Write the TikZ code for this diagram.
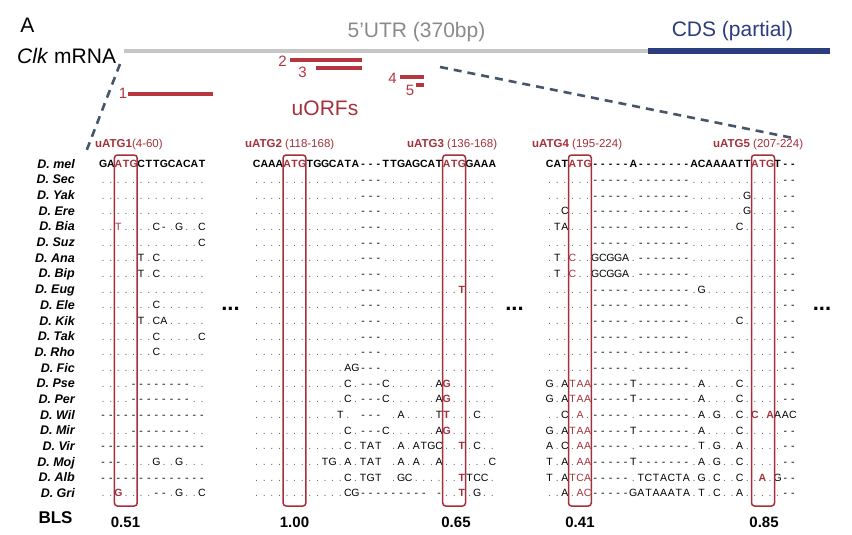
\documentclass[tikz,border=0pt]{standalone}
\usepackage{fontspec}
\setmainfont{Liberation Sans}
\usepackage{xcolor}
\usepackage{tikz}
\usetikzlibrary{positioning}
\definecolor{atgred}{HTML}{A3303A}
\definecolor{barred}{HTML}{B5363F}
\definecolor{utrgray}{HTML}{C6C6C6}
\definecolor{cdsnavy}{HTML}{2C3C7C}
\definecolor{utrtext}{HTML}{8A8A8A}
\definecolor{dashslate}{HTML}{46556A}
\definecolor{dotgray}{HTML}{6A6A6A}
\newlength{\colw}\setlength{\colw}{7.6pt}
% one aligned base per box; lower case = red, * = next one bold, _ = blank
\makeatletter
\def\seq@bf{}
\def\seq#1{\seq@loop#1\relax}
\def\seq@loop#1{\ifx#1\relax\else
  \ifx#1*\gdef\seq@bf{\bfseries}\else\seq@char#1\gdef\seq@bf{}\fi
  \expandafter\seq@loop\fi}
\def\seq@char#1{\makebox[\colw][c]{\ifnum`#1>96\relax\textcolor{atgred}{\seq@bf\uppercase{#1}}\else
  \ifx#1_\else\ifx#1.\textcolor{dotgray}{.}\else#1\fi\fi\fi}}
\makeatother
\tikzset{
  species/.style={anchor=base east, inner sep=0pt,
    font=\fontsize{12.5}{13}\selectfont\bfseries\itshape},
  seqrow/.style={anchor=base west, inner sep=0pt, font=\fontsize{10.5}{12}\selectfont},
  melrow/.style={seqrow, font=\fontsize{10.5}{12}\selectfont\bfseries},
  hdr/.style={anchor=base west, inner sep=0pt, text=atgred,
    font=\fontsize{11.5}{12}\selectfont},
  bigtext/.style={inner sep=0pt, font=\fontsize{21}{24}\selectfont},
  orfnum/.style={inner sep=0pt, text=barred, font=\fontsize{15}{16}\selectfont},
  orfbar/.style={line width=4.5pt, barred},
  atgbox/.style={draw=atgred, line width=1.5pt, rounded corners=3pt},
  zoomline/.style={dash pattern=on 8pt off 6pt, line width=2.6pt, dashslate},
  blsval/.style={inner sep=0pt, font=\fontsize{15}{16}\selectfont\bfseries},
  gapdots/.style={anchor=base, inner sep=0pt, font=\fontsize{22}{22}\selectfont\bfseries},
}
\newcommand{\alnrow}[5]{%
  \node[species] (sp-#1) at (75,{168.3+15.67*#2}) {D. #1};
  \node[seqrow] (b1-#1) at (99.2,{167.8+15.67*#2}) {\seq{#3}};
  \node[seqrow] (b2-#1) at (252.7,{167.8+15.67*#2}) {\seq{#4}};
  \node[seqrow] (b3-#1) at (545.7,{167.8+15.67*#2}) {\seq{#5}};
}
\begin{document}
\begin{tikzpicture}[x=1pt, y=-1pt]
  \useasboundingbox (0,0) rectangle (852,535);

  % mRNA overview
  \node[bigtext] (panel) at (27.5,25) {A};
  \node[bigtext, anchor=west] (mrna) at (17,56) {\textit{Clk} mRNA};
  \node[bigtext, text=utrtext] (utr) at (416.5,32) {5'UTR (370bp)};
  \node[bigtext, text=cdsnavy] (cds) at (732.5,31) {CDS (partial)};
  \coordinate (utr-a) at (124,51);
  \coordinate (utr-b) at (648,51);
  \coordinate (cds-b) at (830,51);
  \draw[utrgray, line width=4pt] (utr-a) -- (utr-b);
  \draw[cdsnavy, line width=5.5pt] (utr-b) -- (cds-b);

  % uORFs
  \draw[orfbar] (128,94) -- (213,94);
  \draw[orfbar] (290,60) -- (362,60);
  \draw[orfbar] (316,68) -- (362,68);
  \draw[orfbar] (400,77) -- (424,77);
  \draw[orfbar] (416,85) -- (424,85);
  \node[orfnum] (n1) at (123,93) {1};
  \node[orfnum] (n2) at (282.5,61) {2};
  \node[orfnum] (n3) at (302.5,72) {3};
  \node[orfnum] (n4) at (392.5,78) {4};
  \node[orfnum] (n5) at (410,90) {5};
  \node[bigtext, text=atgred] (uorfs) at (325,108) {uORFs};

  % zoom lines
  \coordinate (zl-a) at (120,64);
  \coordinate (zl-b) at (86,152);
  \coordinate (zr-a) at (440,67);
  \coordinate (zr-b) at (793,138);
  \draw[zoomline] (zl-a) -- (zl-b);
  \draw[zoomline] (zr-a) -- (zr-b);

  % uATG headers
  \node[hdr] (h1) at (95,147.5) {\textbf{uATG1}(4-60)};
  \node[hdr] (h2) at (245,147.5) {\textbf{uATG2} (118-168)};
  \node[hdr] (h3) at (407,147.5) {\textbf{uATG3} (136-168)};
  \node[hdr] (h4) at (532,147.5) {\textbf{uATG4} (195-224)};
  \node[hdr] (h5) at (713,147.5) {\textbf{uATG5} (207-224)};

  % alignment
  \node[species] (sp-mel) at (75,168.3) {D. mel};
  \node[melrow] (b1-mel) at (99.2,167.8) {\seq{GAatgCTTGCACAT}};
  \node[melrow] (b2-mel) at (252.7,167.8) {\seq{CAAAatgTGGCATA---TTGAGCATatgGAAA}};
  \node[melrow] (b3-mel) at (545.7,167.8) {\seq{CATatg-----A-------ACAAAATTatgT--}};
  \alnrow{Sec}{1}{..............}{..............---...............}{......-----.-------............--}
  \alnrow{Yak}{2}{..............}{..............---...............}{......-----.-------.......G....--}
  \alnrow{Ere}{3}{..............}{..............---...............}{..C...-----.-------.......G....--}
  \alnrow{Bia}{4}{..t....C-.G..C}{..............---...............}{.TA...-----.-------......C.....--}
  \alnrow{Suz}{5}{.............C}{..............---...............}{......-----.-------............--}
  \alnrow{Ana}{6}{.....T.C......}{..............---...............}{.T.c..GCGGA.-------............--}
  \alnrow{Bip}{7}{.....T.C......}{..............---...............}{.T.c..GCGGA.-------............--}
  \alnrow{Eug}{8}{..............}{..............---..........*t....}{......-----.-------.G..........--}
  \alnrow{Ele}{9}{.......C......}{..............---...............}{......-----.-------............--}
  \alnrow{Kik}{10}{.....T.CA.....}{..............---...............}{......-----.-------......C.....--}
  \alnrow{Tak}{11}{.......C.....C}{..............---...............}{......-----.-------............--}
  \alnrow{Rho}{12}{.......C......}{..............---...............}{......-----.-------............--}
  \alnrow{Fic}{13}{..............}{............AG---...............}{......-----.-------............--}
  \alnrow{Pse}{14}{....--------..}{............C.---C......A*g......}{G.Ataa-----T-------.A....C.....--}
  \alnrow{Per}{15}{....--------..}{............C.---C......A*g......}{G.Ataa-----T-------.A....C.....--}
  \alnrow{Wil}{16}{--------------}{...........T._---_.A....T*t...C..}{..C.a.-----.-------.A.G..C.*c.*aAAC}
  \alnrow{Mir}{17}{....--------..}{............C.---C......A*g......}{G.Ataa-----T-------.A....C.....--}
  \alnrow{Vir}{18}{--------------}{............C.TAT_.A.ATGC..*t.C..}{A.C.aa-----.-------.T.G..A.....--}
  \alnrow{Moj}{19}{---....G..G...}{.........TG.A.TAT_.A.A..A......C}{T.A.aa-----T-------.A.G..C.....--}
  \alnrow{Alb}{20}{--------------}{............C.TGT_.GC......*tTCC.}{T.Atca-----.TCTACTA.G.C..C..*a.G--}
  \alnrow{Gri}{21}{..*g....--.G..C}{............CG---------_-..*t.G..}{..A.ac-----GATAAATA.T.C..A.....--}

  % start codon boxes
  \draw[atgbox] (114.4,155) rectangle (137.2,506);
  \draw[atgbox] (283.1,155) rectangle (305.9,506);
  \draw[atgbox] (442.7,155) rectangle (465.5,506);
  \draw[atgbox] (568.5,155) rectangle (591.3,506);
  \draw[atgbox] (751.5,155) rectangle (774.5,506);

  % skipped regions
  \node[gapdots] (gap1) at (230.5,310) {...};
  \node[gapdots] (gap2) at (514.5,310) {...};
  \node[gapdots] (gap3) at (822,310) {...};

  % BLS
  \node[blsval, font=\fontsize{17}{18}\selectfont\bfseries] (bls) at (55.5,518) {BLS};
  \node[blsval] (bls1) at (125.5,522) {0.51};
  \node[blsval] (bls2) at (294.5,522) {1.00};
  \node[blsval] (bls3) at (456,522) {0.65};
  \node[blsval] (bls4) at (580,522) {0.41};
  \node[blsval] (bls5) at (764,522) {0.85};
\end{tikzpicture}
\end{document}
